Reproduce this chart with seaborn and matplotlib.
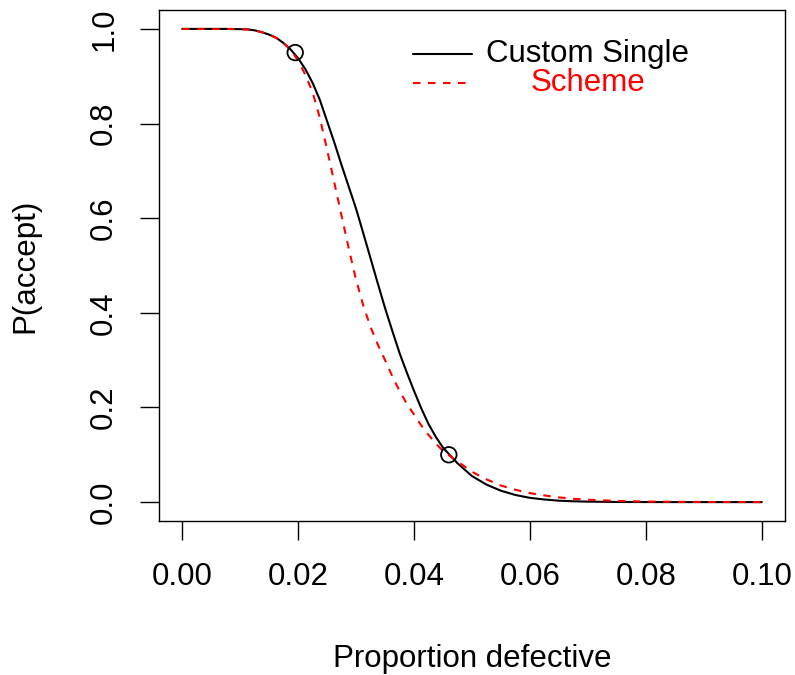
import pandas as pd
import matplotlib
matplotlib.use("Agg")
import matplotlib.pyplot as plt
import seaborn as sns

# Values
proportion = [0.000, 0.005, 0.0075, 0.010, 0.01125, 0.0125, 0.01375, 0.015, 0.01625,
              0.0175, 0.01875, 0.020, 0.02125, 0.0225, 0.02375, 0.025, 0.02625,
              0.0275, 0.02875, 0.030, 0.03125, 0.0325, 0.03375, 0.035, 0.03625,
              0.0375, 0.03875, 0.040, 0.04125, 0.0425, 0.04375, 0.045, 0.0475,
              0.050, 0.0525, 0.055, 0.0575, 0.060, 0.0625, 0.065, 0.0675, 0.070,
              0.075, 0.080, 0.085, 0.090, 0.100]
p_custom = [1.000, 1.000, 1.000, 0.9995, 0.999, 0.997, 0.993, 0.988, 0.981,
            0.970, 0.956, 0.938, 0.915, 0.886, 0.850, 0.805, 0.760,
            0.712, 0.666, 0.620, 0.568, 0.515, 0.462, 0.410, 0.362,
            0.315, 0.274, 0.235, 0.198, 0.165, 0.138, 0.115, 0.082,
            0.055, 0.037, 0.024, 0.015, 0.009, 0.0055, 0.003, 0.0017, 0.001,
            0.0003, 0.0001, 0.0, 0.0, 0.0]
p_scheme = [1.000, 1.000, 1.000, 0.9995, 0.999, 0.997, 0.993, 0.988, 0.981,
            0.970, 0.955, 0.933, 0.903, 0.866, 0.812, 0.745, 0.675,
            0.605, 0.535, 0.470, 0.415, 0.370, 0.333, 0.300, 0.266,
            0.235, 0.208, 0.185, 0.162, 0.142, 0.124, 0.108, 0.086,
            0.064, 0.048, 0.035, 0.026, 0.019, 0.014, 0.010, 0.007, 0.005,
            0.0025, 0.0012, 0.0006, 0.0003, 0.0]

# Producer / consumer risk points
risk_p = [0.0195, 0.046]
risk_pa = [0.95, 0.10]

legend_labels = ["Custom Single", "Scheme"]

df = pd.DataFrame({"p": proportion, "custom": p_custom, "scheme": p_scheme})
df_risk = pd.DataFrame({"p": risk_p, "pa": risk_pa})

sns.set_style("ticks")
plt.rcParams["font.family"] = ["Liberation Sans", "DejaVu Sans"]
plt.rcParams["text.color"] = "black"
plt.rcParams["axes.labelcolor"] = "black"
plt.rcParams["xtick.color"] = "black"
plt.rcParams["ytick.color"] = "black"

fig = plt.figure(figsize=(7.95, 6.75), dpi=100)
ax = fig.add_axes([0.2, 0.2281, 0.7874, 0.7571])

dash = (0, (3.6, 3.6))
sns.lineplot(data=df, x="p", y="custom", color="black", linewidth=1.5, ax=ax)
sns.lineplot(data=df, x="p", y="scheme", color="red", linewidth=1.5,
             linestyle=dash, ax=ax)
sns.scatterplot(data=df_risk, x="p", y="pa", marker="o", s=125,
                facecolors="none", edgecolors="black", linewidths=1.3, ax=ax, zorder=5)

ax.set_xlim(-0.004, 0.104)
ax.set_ylim(-0.04, 1.04)
ax.set_xticks([0.0, 0.02, 0.04, 0.06, 0.08, 0.10])
ax.set_xticklabels(["0.00", "0.02", "0.04", "0.06", "0.08", "0.10"])
ax.set_yticks([0.0, 0.2, 0.4, 0.6, 0.8, 1.0])
ax.set_yticklabels(["0.0", "0.2", "0.4", "0.6", "0.8", "1.0"], rotation=90, va="center")

ax.tick_params(axis="both", length=13.7, width=1.0, labelsize=22.5, color="black")
ax.tick_params(axis="x", pad=16)
ax.tick_params(axis="y", pad=15)
for s in ax.spines.values():
    s.set_linewidth(1.0)
    s.set_color("black")

ax.set_xlabel("Proportion defective", fontsize=22.5)
ax.set_ylabel("P(accept)", fontsize=22.5)
ax.xaxis.set_label_coords(0.5, -0.24)
ax.yaxis.set_label_coords(-0.19, 0.5)

# Legend, R style with centred text
ax.plot([0.406, 0.5], [0.913, 0.913], color="black", linewidth=1.5, transform=ax.transAxes)
ax.plot([0.406, 0.5], [0.858, 0.858], color="red", linewidth=1.5,
        linestyle=dash, transform=ax.transAxes)
ax.text(0.685, 0.913, legend_labels[0], color="black", fontsize=22.5,
        ha="center", va="center", transform=ax.transAxes)
ax.text(0.685, 0.858, legend_labels[1], color="red", fontsize=22.5,
        ha="center", va="center", transform=ax.transAxes)

fig.savefig("out.png", dpi=100)
